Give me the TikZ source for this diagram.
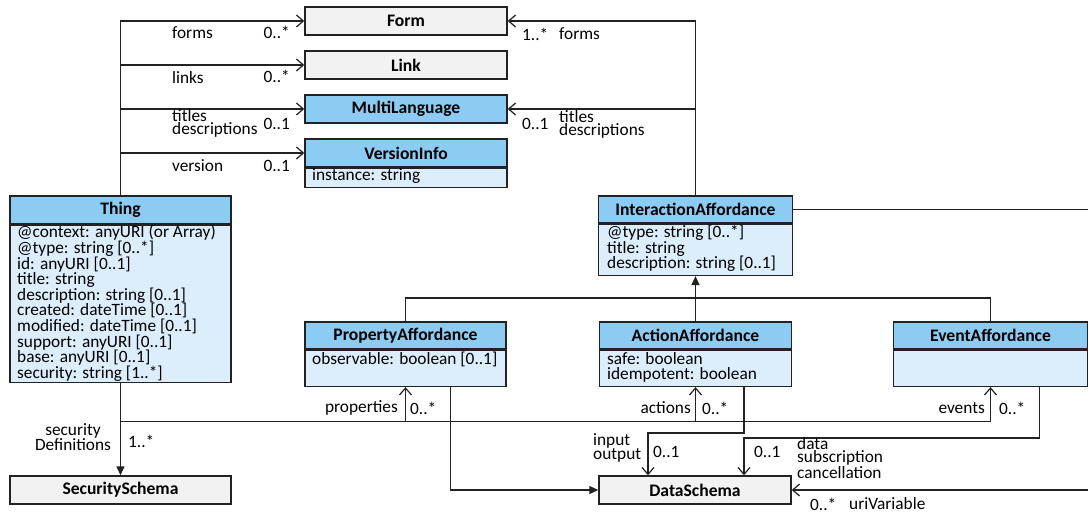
\documentclass[tikz,border=0pt]{standalone}
\usepackage{fontspec}
\setmainfont{Carlito}
\usetikzlibrary{arrows.meta}
\definecolor{hdblue}{RGB}{141,204,242}
\definecolor{bdblue}{RGB}{220,237,252}
\definecolor{boxgray}{RGB}{242,242,242}
\definecolor{edge}{RGB}{34,34,34}
\begin{document}
\begin{tikzpicture}[x=1pt,y=-1pt,
  hdr/.style={draw=edge, fill=hdblue, line width=1.4pt, inner sep=0pt,
    font=\bfseries\fontsize{17.6}{17.6}\selectfont},
  gbox/.style={hdr, fill=boxgray},
  bdy/.style={draw=edge, fill=bdblue, line width=1.4pt, inner sep=0pt},
  attr/.style={anchor=north west, align=left, inner sep=0pt,
    font=\fontsize{17.3}{15.6}\selectfont},
  lbl/.style={inner sep=0pt, align=left, font=\fontsize{17.3}{13.2}\selectfont},
  conn/.style={line width=1.3pt, draw=edge},
  oarr/.style={conn, -{Straight Barb[length=7pt,width=12pt,line width=1.2pt]}},
  farr/.style={conn, -{Triangle[length=9pt,width=8pt]}}]
\useasboundingbox (0,0) rectangle (1088,513);

% classes on the left
\node[gbox, minimum width=202pt, minimum height=28pt] (form) at (406,21) {Form};
\node[gbox, minimum width=202pt, minimum height=28pt] (link) at (406,65) {Link};
\node[hdr, minimum width=202pt, minimum height=28pt] (multi) at (406,109) {MultiLanguage};
\node[hdr, minimum width=202pt, minimum height=28pt] (verH) at (406,153) {VersionInfo};
\node[bdy, minimum width=202pt, minimum height=19pt, anchor=north] (verB) at (verH.south) {};
\node[attr] (verT) at (312,168.5) {instance: string};

\node[hdr, minimum width=221pt, minimum height=28pt] (thingH) at (120.5,210) {Thing};
\node[bdy, minimum width=221pt, minimum height=157pt, anchor=north] (thingB) at (thingH.south) {};
\node[attr] (thingT) at (17,225) {@context: anyURI (or Array)\\@type: string [0..*]\\id: anyURI [0..1]\\title: string\\description: string [0..1]\\created: dateTime [0..1]\\modified: dateTime [0..1]\\support: anyURI [0..1]\\base: anyURI [0..1]\\security: string [1..*]};

\node[gbox, minimum width=221pt, minimum height=28pt] (sec) at (120.5,490) {SecuritySchema};

% interaction affordances
\node[hdr, minimum width=194pt, minimum height=27pt] (iaH) at (695.5,209.5) {InteractionAffordance};
\node[bdy, minimum width=194pt, minimum height=51pt, anchor=north] (iaB) at (iaH.south) {};
\node[attr] (iaT) at (607,225) {@type: string [0..*]\\title: string\\description: string [0..1]};

\node[hdr, minimum width=201pt, minimum height=27pt] (propH) at (405.5,335.5) {PropertyAffordance};
\node[bdy, minimum width=201pt, minimum height=36pt, anchor=north] (propB) at (propH.south) {};
\node[attr] (propT) at (312,352) {observable: boolean [0..1]};

\node[hdr, minimum width=192pt, minimum height=27pt] (actH) at (695.5,335.5) {ActionAffordance};
\node[bdy, minimum width=192pt, minimum height=36pt, anchor=north] (actB) at (actH.south) {};
\node[attr] (actT) at (607,352) {safe: boolean\\idempotent: boolean};

\node[hdr, minimum width=194pt, minimum height=27pt] (evH) at (990.5,335.5) {EventAffordance};
\node[bdy, minimum width=194pt, minimum height=36pt, anchor=north] (evB) at (evH.south) {};

\node[gbox, minimum width=192pt, minimum height=28pt] (ds) at (695,490) {DataSchema};

% associations from Thing
\draw[oarr] (thingH.north) |- (form.west);
\draw[oarr] (thingH.north |- link.west) -- (link.west);
\draw[oarr] (thingH.north |- multi.west) -- (multi.west);
\draw[oarr] (thingH.north |- verH.west) -- (verH.west);
\node[lbl, anchor=west] (lForms) at (172,33) {forms};
\node[lbl, anchor=east] (mForms) at (290,32) {0..*};
\node[lbl, anchor=west] (lLinks) at (172,78) {links};
\node[lbl, anchor=east] (mLinks) at (290,76) {0..*};
\node[lbl, anchor=west] (lTitles) at (172,123.5) {titles\\descriptions};
\node[lbl, anchor=east] (mTitles) at (290,124) {0..1};
\node[lbl, anchor=west] (lVer) at (172,166) {version};
\node[lbl, anchor=east] (mVer) at (290,166) {0..1};

% associations from InteractionAffordance
\draw[oarr] (iaH.north) |- (form.east);
\draw[oarr] (iaH.north |- multi.east) -- (multi.east);
\node[lbl, anchor=west] (mIaForms) at (522,34) {1..*};
\node[lbl, anchor=west] (lIaForms) at (559,34) {forms};
\node[lbl, anchor=west] (mIaTitles) at (522,124) {0..1};
\node[lbl, anchor=west] (lIaTitles) at (559,124) {titles\\descriptions};

% generalization
\coordinate (gbar) at (695.5,298);
\draw[conn] (propH.north) |- (gbar) -| (evH.north);
\draw[farr] (actH.north) -- (iaB.south);

% Thing to security schemes and affordances
\draw[farr] (thingB.south) -- (sec.north);
\node[lbl, align=center] (lSec) at (73,437) {security\\Definitions};
\node[lbl, anchor=west] (mSec) at (128,441) {1..*};
\coordinate (hbar) at (120.5,421.5);
\draw[oarr] (thingB.south |- hbar) -| (evB.south);
\draw[oarr] (propB.south |- hbar) -- (propB.south);
\draw[oarr] (actB.south |- hbar) -- (actB.south);
\node[lbl, anchor=east] (lProp) at (398,408) {properties};
\node[lbl, anchor=west] (mProp) at (410,408) {0..*};
\node[lbl, anchor=east] (lAct) at (691,408) {actions};
\node[lbl, anchor=west] (mAct) at (702,408) {0..*};
\node[lbl, anchor=east] (lEv) at (985,408) {events};
\node[lbl, anchor=west] (mEv) at (999,408) {0..*};

% data schemas
\draw[farr] ([xshift=45pt]propB.south) |- (ds.west);
\draw[oarr] ([xshift=48.5pt]actB.south) -- ++(0,46) -| ([xshift=-47pt]ds.north);
\node[lbl, anchor=west] (lIO) at (593,448) {input\\output};
\node[lbl, anchor=west] (mIO) at (653,452) {0..1};
\draw[oarr] ([xshift=49pt]evB.south) -- ++(0,51) -| ([xshift=49pt]ds.north);
\node[lbl, anchor=west] (mEvD) at (754,452) {0..1};
\node[lbl, anchor=west] (lEvD) at (797,458) {data\\subscription\\cancellation};
\coordinate (rim) at (1096,490);
\draw[oarr] (iaH.east) -| (rim) -- (ds.east);
\node[lbl, anchor=west] (mUri) at (810,504) {0..*};
\node[lbl, anchor=west] (lUri) at (849,504) {uriVariable};
\end{tikzpicture}
\end{document}
